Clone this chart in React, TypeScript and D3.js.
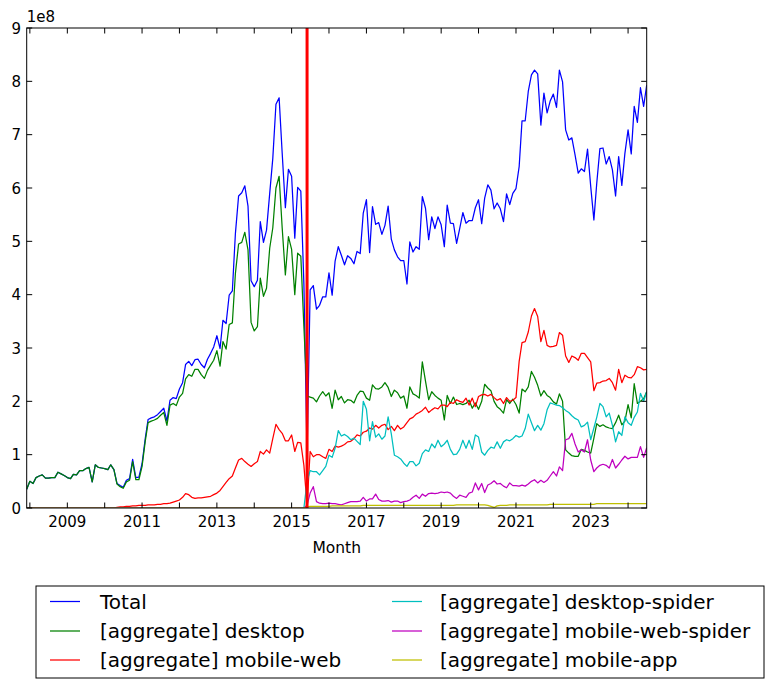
import React from 'react';
import * as d3 from 'd3';

// Monthly categories: 2007-12 .. 2024-07 (200 months)
const START = new Date(Date.UTC(2007, 11, 1));
const END = new Date(Date.UTC(2024, 6, 1));
const months: Date[] = d3.utcMonth.range(START, d3.utcMonth.offset(END, 1));
const splitDate = new Date(Date.UTC(2015, 5, 1));

// values in units of 1e8
const total = [
  0.35,0.50,0.46,0.57,0.60,0.62,0.56,0.56,0.57,0.57,
  0.67,0.64,0.61,0.57,0.55,0.63,0.62,0.70,0.70,0.74,
  0.76,0.49,0.81,0.76,0.75,0.74,0.72,0.81,0.72,0.46,
  0.42,0.39,0.52,0.55,0.91,0.57,0.58,0.83,1.30,1.66,
  1.69,1.71,1.75,1.81,1.87,1.63,2.02,2.07,2.05,2.23,
  2.35,2.69,2.75,2.67,2.78,2.79,2.69,2.63,2.79,2.90,
  3.02,3.23,2.99,3.52,3.46,3.99,4.07,5.15,5.85,5.91,
  6.04,5.66,4.26,4.15,4.27,5.37,4.98,5.21,5.90,6.55,
  7.57,7.69,6.65,5.63,6.35,6.22,5.06,6.01,5.94,4.20,
  1.00,4.09,4.17,3.73,3.80,3.96,3.96,4.41,3.99,4.63,
  4.90,4.74,4.56,4.73,4.68,4.58,4.81,4.77,5.53,5.78,
  4.79,5.65,5.32,5.35,5.13,5.30,5.66,5.04,4.84,4.71,
  4.64,4.64,4.20,4.99,4.80,4.90,4.85,5.84,5.62,5.03,
  5.46,5.24,5.46,5.31,4.90,5.68,5.34,5.33,4.96,5.24,
  5.54,5.34,5.39,5.39,5.63,5.78,5.33,5.81,6.06,5.96,
  5.61,5.72,5.61,5.37,5.89,5.69,5.90,5.99,6.40,7.26,
  7.26,7.81,8.12,8.21,8.14,7.18,7.78,7.41,7.63,7.76,
  7.51,8.21,7.99,7.09,6.90,6.94,6.62,6.28,6.36,6.31,
  6.73,6.03,5.40,6.09,6.74,6.75,6.45,6.59,6.34,5.85,
  6.59,6.05,6.65,7.09,6.64,7.53,7.23,7.88,7.53,7.93,
];

const desktop = [
  0.35,0.50,0.46,0.57,0.60,0.62,0.56,0.56,0.57,0.57,
  0.67,0.64,0.61,0.57,0.55,0.63,0.62,0.70,0.70,0.74,
  0.76,0.49,0.81,0.76,0.75,0.74,0.72,0.81,0.72,0.45,
  0.40,0.37,0.49,0.52,0.87,0.53,0.53,0.78,1.25,1.60,
  1.63,1.65,1.68,1.74,1.79,1.55,1.93,1.96,1.92,2.08,
  2.15,2.42,2.50,2.47,2.60,2.60,2.50,2.43,2.58,2.68,
  2.77,2.95,2.66,3.12,2.98,3.44,3.47,4.40,4.95,4.98,
  5.17,4.84,3.48,3.32,3.40,4.31,3.97,4.12,4.87,5.25,
  6.00,6.22,5.25,4.37,5.09,4.85,4.00,4.78,4.72,3.40,
  2.10,2.08,2.06,1.99,2.10,2.18,2.10,2.16,1.87,2.21,
  2.03,2.09,1.97,2.03,2.02,1.97,2.11,2.19,2.18,2.06,
  2.02,2.31,2.24,2.23,2.27,2.35,2.26,2.09,2.21,2.16,
  2.06,2.10,1.87,2.27,2.14,2.11,2.06,2.74,2.38,2.03,
  2.18,2.11,2.06,2.02,1.65,2.11,1.96,2.08,1.94,1.96,
  1.94,1.96,2.02,1.87,1.97,1.85,2.00,2.32,2.25,2.20,
  2.00,1.90,1.85,1.78,2.03,1.96,2.04,1.94,1.78,2.23,
  2.18,2.27,2.56,2.45,2.30,2.10,2.20,2.11,2.07,1.99,
  1.95,2.14,2.00,1.09,1.03,0.98,0.97,0.97,1.10,1.08,
  1.05,1.03,1.31,1.58,1.53,1.56,1.52,1.50,1.49,1.60,
  1.74,1.56,1.63,1.94,1.69,2.33,1.96,2.00,2.05,2.18,
];

const mobileWeb = [
  0,0,0,0,0,0,0,0,0,0,
  0,0,0,0,0,0,0,0,0,0,
  0,0,0,0,0,0,0,0,0.00,0.01,
  0.02,0.02,0.03,0.03,0.04,0.04,0.05,0.05,0.05,0.06,
  0.06,0.06,0.07,0.07,0.08,0.08,0.09,0.11,0.13,0.15,
  0.20,0.27,0.25,0.20,0.18,0.19,0.19,0.20,0.21,0.22,
  0.25,0.28,0.33,0.40,0.48,0.55,0.60,0.75,0.90,0.93,
  0.87,0.82,0.78,0.83,0.87,1.06,1.01,1.09,1.03,1.30,
  1.57,1.47,1.40,1.26,1.26,1.37,1.06,1.23,1.22,0.80,
  0.05,1.06,0.96,1.00,1.00,0.96,0.93,1.10,1.06,1.16,
  1.14,1.16,1.19,1.24,1.25,1.30,1.37,1.35,1.42,1.44,
  1.50,1.48,1.55,1.50,1.55,1.57,1.47,1.53,1.45,1.55,
  1.48,1.52,1.60,1.67,1.70,1.76,1.79,1.83,1.89,1.79,
  1.84,1.88,1.86,1.93,1.93,1.90,1.98,1.96,2.03,2.00,
  1.98,2.06,1.93,2.06,1.90,2.09,2.12,2.13,2.10,2.13,
  2.07,2.02,2.05,1.96,2.07,2.00,2.02,2.07,2.75,3.10,
  3.12,3.30,3.60,3.74,3.59,3.12,3.33,3.05,3.02,3.03,
  3.05,3.29,3.24,2.85,2.73,2.85,2.82,2.77,2.90,2.90,
  2.82,2.74,2.20,2.34,2.35,2.38,2.39,2.43,2.35,2.21,
  2.60,2.35,2.49,2.45,2.44,2.50,2.65,2.63,2.59,2.60,
];

const desktopSpider = [
  0,0,0,0,0,0,0,0,0,0,
  0,0,0,0,0,0,0,0,0,0,
  0,0,0,0,0,0,0,0,0,0,
  0,0,0,0,0,0,0,0,0,0,
  0,0,0,0,0,0,0,0,0,0,
  0,0,0,0,0,0,0,0,0,0,
  0,0,0,0,0,0,0,0,0,0,
  0,0,0,0,0,0,0,0,0,0,
  0,0,0,0,0,0,0,0,0,0,
  0.50,0.70,0.68,0.68,0.62,0.70,0.78,0.99,0.95,1.12,
  1.45,1.35,1.38,1.34,1.28,1.31,1.25,1.19,2.00,1.85,
  1.26,1.62,1.33,1.39,1.29,1.35,1.71,1.39,0.99,0.96,
  0.92,0.84,0.78,0.87,0.87,0.79,0.84,1.02,1.09,1.06,
  1.20,1.13,1.27,1.15,1.20,1.27,1.10,1.00,1.01,1.10,
  1.27,1.12,1.27,1.10,1.37,1.33,1.05,0.99,1.08,1.14,
  1.12,1.24,1.12,1.24,1.28,1.26,1.30,1.36,1.33,1.35,
  1.49,1.76,1.60,1.45,1.55,1.46,1.58,1.84,1.97,1.95,
  1.93,1.92,1.88,1.83,1.79,1.73,1.68,1.65,1.52,1.55,
  1.61,1.28,1.50,1.70,1.96,1.90,1.71,1.78,1.55,1.24,
  1.43,1.36,1.71,1.60,1.55,1.70,1.80,2.15,2.00,2.18,
];

const mobileWebSpider = [
  0,0,0,0,0,0,0,0,0,0,
  0,0,0,0,0,0,0,0,0,0,
  0,0,0,0,0,0,0,0,0,0,
  0,0,0,0,0,0,0,0,0,0,
  0,0,0,0,0,0,0,0,0,0,
  0,0,0,0,0,0,0,0,0,0,
  0,0,0,0,0,0,0,0,0,0,
  0,0,0,0,0,0,0,0,0,0,
  0,0,0,0,0,0,0,0,0,0,
  0.05,0.28,0.40,0.12,0.09,0.08,0.08,0.09,0.08,0.08,
  0.07,0.06,0.08,0.10,0.12,0.12,0.12,0.13,0.20,0.13,
  0.17,0.17,0.26,0.16,0.13,0.13,0.14,0.11,0.13,0.13,
  0.10,0.12,0.13,0.15,0.20,0.24,0.18,0.26,0.22,0.27,
  0.28,0.27,0.28,0.30,0.29,0.30,0.28,0.22,0.18,0.24,
  0.22,0.20,0.28,0.30,0.47,0.34,0.46,0.29,0.43,0.46,
  0.51,0.45,0.46,0.41,0.38,0.47,0.42,0.42,0.41,0.43,
  0.41,0.45,0.50,0.53,0.47,0.52,0.48,0.52,0.60,0.68,
  0.60,0.77,0.70,1.28,1.30,1.40,1.20,1.05,1.09,1.05,
  1.28,0.90,0.68,0.75,0.80,0.82,0.80,0.75,0.91,0.75,
  0.82,0.90,0.97,0.92,0.95,0.95,0.95,1.15,0.95,1.13,
];

const mobileApp = [
  0,0,0,0,0,0,0,0,0,0,
  0,0,0,0,0,0,0,0,0,0,
  0,0,0,0,0,0,0,0,0,0,
  0,0,0,0,0,0,0,0,0,0,
  0,0,0,0,0,0,0,0,0,0,
  0,0,0,0,0,0,0,0,0,0,
  0,0,0,0,0,0,0,0,0,0,
  0,0,0,0,0,0,0,0,0,0,
  0,0,0,0,0,0,0,0,0,0,
  0.02,0.03,0.03,0.03,0.03,0.03,0.03,0.03,0.04,0.04,
  0.04,0.04,0.04,0.04,0.04,0.04,0.04,0.04,0.05,0.05,
  0.05,0.05,0.05,0.05,0.05,0.05,0.05,0.05,0.05,0.05,
  0.05,0.05,0.05,0.05,0.05,0.05,0.05,0.05,0.05,0.05,
  0.05,0.05,0.05,0.05,0.05,0.05,0.05,0.05,0.06,0.06,
  0.06,0.06,0.06,0.06,0.06,0.06,0.06,0.06,0.05,0.03,
  0.01,0.04,0.05,0.05,0.05,0.06,0.06,0.06,0.06,0.06,
  0.06,0.06,0.06,0.06,0.06,0.06,0.06,0.06,0.07,0.07,
  0.07,0.07,0.07,0.07,0.07,0.07,0.07,0.07,0.07,0.07,
  0.07,0.07,0.07,0.08,0.08,0.08,0.08,0.08,0.08,0.08,
  0.08,0.08,0.08,0.08,0.08,0.08,0.08,0.08,0.08,0.08,
];

const seriesNames = [
  'Total',
  '[aggregate] desktop',
  '[aggregate] mobile-web',
  '[aggregate] desktop-spider',
  '[aggregate] mobile-web-spider',
  '[aggregate] mobile-app',
];
const seriesColors = ['#0000ff', '#008000', '#ff0000', '#00bfbf', '#bf00bf', '#bfbf00'];
const seriesValues = [total, desktop, mobileWeb, desktopSpider, mobileWebSpider, mobileApp];

const yTicks = [0, 1, 2, 3, 4, 5, 6, 7, 8, 9];
const xLabelYears = [2009, 2011, 2013, 2015, 2017, 2019, 2021, 2023];

const FONT = 'DejaVu Sans, sans-serif';

export default function App() {
  const W = 768, H = 688;
  const L = 26.7, R = 646.7, T = 28, B = 508;
  const x = d3.scaleUtc().domain([START, END]).range([L, R]);
  const y = d3.scaleLinear().domain([0, 9]).range([B, T]);

  const line = d3
    .line<number>()
    .x((_, i) => x(months[i]))
    .y((v) => y(v));

  const yearTicks = d3.utcYear.range(new Date(Date.UTC(2008, 0, 1)), new Date(Date.UTC(2025, 0, 1)));
  const tickLen = 5.5;

  const legendRows = [601.5, 631, 660];
  const legendCols = [{ x0: 50, x1: 80, tx: 100 }, { x0: 392, x1: 422, tx: 440 }];

  return (
    <svg
      width={W}
      height={H}
      style={{ position: 'absolute', left: 0, top: 0, background: '#fff' }}
      fontFamily={FONT}
    >
      <rect x={0} y={0} width={W} height={H} fill="#fff" />
      <defs>
        <clipPath id="plotclip">
          <rect x={L} y={T} width={R - L} height={B - T} />
        </clipPath>
      </defs>
      <g clipPath="url(#plotclip)">
        {seriesValues.map((vals, k) => (
          <path
            key={seriesNames[k]}
            d={line(vals.slice(0, months.length)) || ''}
            fill="none"
            stroke={seriesColors[k]}
            strokeWidth={1.25}
            strokeLinejoin="round"
          />
        ))}
        <line x1={x(splitDate)} x2={x(splitDate)} y1={T} y2={B} stroke="#ff0000" strokeWidth={3} />
      </g>

      {/* frame */}
      <rect x={L} y={T} width={R - L} height={B - T} fill="none" stroke="#000" strokeWidth={1} />

      {/* x ticks */}
      {yearTicks.map((d) => (
        <g key={d.toISOString()}>
          <line x1={x(d)} x2={x(d)} y1={B} y2={B - tickLen} stroke="#000" strokeWidth={1} />
          <line x1={x(d)} x2={x(d)} y1={T} y2={T + tickLen} stroke="#000" strokeWidth={1} />
        </g>
      ))}
      {xLabelYears.map((yr) => (
        <text
          key={yr}
          x={x(new Date(Date.UTC(yr, 0, 1)))}
          y={527}
          fontSize={15}
          textAnchor="middle"
          fill="#000"
        >
          {yr}
        </text>
      ))}
      <text x={(L + R) / 2} y={553} fontSize={15.5} textAnchor="middle" fill="#000">
        Month
      </text>

      {/* y ticks */}
      {yTicks.map((t) => (
        <g key={t}>
          <line x1={L} x2={L + tickLen} y1={y(t)} y2={y(t)} stroke="#000" strokeWidth={1} />
          <line x1={R} x2={R - tickLen} y1={y(t)} y2={y(t)} stroke="#000" strokeWidth={1} />
          <text x={21} y={y(t) + 5.5} fontSize={15} textAnchor="end" fill="#000">
            {t}
          </text>
        </g>
      ))}
      <text x={L} y={22} fontSize={15} fill="#000">
        1e8
      </text>

      {/* legend */}
      <rect x={36} y={586} width={728} height={92} fill="#fff" stroke="#000" strokeWidth={1} />
      {seriesNames.map((name, k) => {
        const col = legendCols[Math.floor(k / 3)];
        const ry = legendRows[k % 3];
        return (
          <g key={name}>
            <line x1={col.x0} x2={col.x1} y1={ry} y2={ry} stroke={seriesColors[k]} strokeWidth={1.25} />
            <text x={col.tx} y={ry + 7} fontSize={20} fill="#000">
              {name}
            </text>
          </g>
        );
      })}
    </svg>
  );
}
